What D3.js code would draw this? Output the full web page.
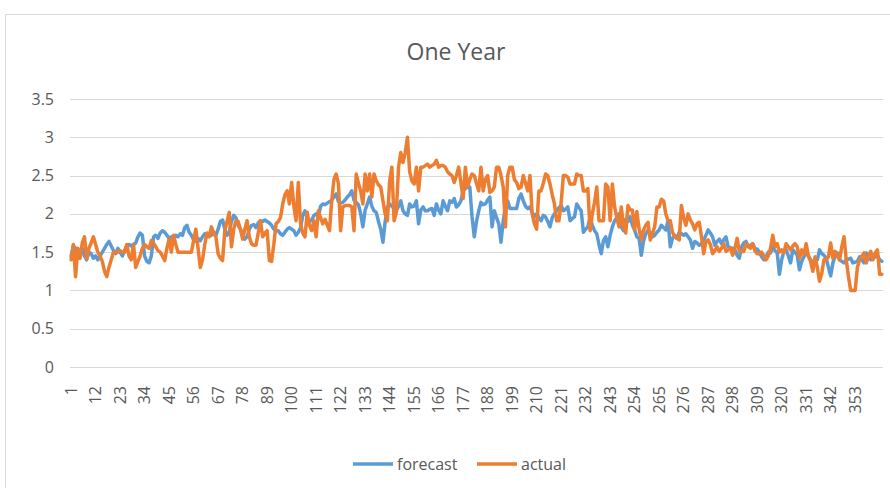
<!DOCTYPE html>
<html>
<head>
<meta charset="utf-8">
<script src="https://cdn.jsdelivr.net/npm/d3@7"></script>
<style>
  html, body { margin: 0; padding: 0; background: #fff; }
  svg { display: block; font-family: "Open Sans", "Noto Sans", sans-serif; }
</style>
</head>
<body>
<svg id="chart" width="890" height="488"></svg>
<script>
// Daily forecast vs actual values over one year (365 days)
const forecast = [
  1.45, 1.58, 1.55, 1.42, 1.50, 1.55, 1.45, 1.40, 1.50, 1.48,
  1.42, 1.45, 1.40, 1.45, 1.50, 1.55, 1.60, 1.64, 1.58, 1.52,
  1.48, 1.55, 1.50, 1.45, 1.52, 1.58, 1.60, 1.58, 1.60, 1.62,
  1.70, 1.75, 1.72, 1.45, 1.38, 1.36, 1.45, 1.70, 1.72, 1.68,
  1.75, 1.78, 1.76, 1.72, 1.68, 1.70, 1.66, 1.72, 1.70, 1.74,
  1.72, 1.82, 1.85, 1.76, 1.72, 1.66, 1.64, 1.68, 1.65, 1.70,
  1.74, 1.72, 1.74, 1.72, 1.76, 1.72, 1.80, 1.90, 1.92, 1.80,
  1.72, 1.76, 1.90, 1.98, 1.95, 1.85, 1.80, 1.72, 1.67, 1.70,
  1.80, 1.85, 1.86, 1.82, 1.88, 1.91, 1.90, 1.92, 1.90, 1.88,
  1.85, 1.80, 1.78, 1.78, 1.74, 1.72, 1.76, 1.80, 1.82, 1.80,
  1.78, 1.72, 1.76, 1.82, 1.98, 2.04, 1.95, 1.90, 1.92, 1.98,
  2.00, 1.96, 2.10, 2.13, 2.12, 2.14, 2.16, 2.18, 2.22, 2.26,
  2.16, 2.14, 2.15, 2.18, 2.22, 2.25, 2.30, 2.18, 2.15, 2.12,
  2.00, 1.83, 2.05, 2.13, 2.22, 2.10, 2.04, 2.02, 1.90, 1.80,
  1.63, 1.90, 2.09, 2.13, 2.10, 2.07, 2.04, 2.10, 2.17, 2.04,
  2.00, 1.98, 2.13, 2.09, 2.10, 2.17, 1.87, 2.05, 2.09, 2.04,
  2.04, 2.06, 2.07, 1.98, 2.13, 2.05, 2.00, 2.17, 2.10, 2.04,
  2.17, 2.15, 2.20, 2.09, 2.12, 2.17, 2.30, 2.33, 2.35, 2.35,
  1.96, 1.70, 1.90, 2.04, 2.15, 2.12, 2.13, 2.18, 2.22, 1.83,
  2.04, 1.95, 1.87, 1.63, 1.91, 2.10, 2.17, 2.07, 2.07, 2.07,
  2.07, 2.20, 2.26, 2.17, 2.10, 2.07, 2.09, 2.02, 1.96, 2.00,
  1.95, 1.91, 1.98, 1.96, 1.90, 1.83, 1.95, 2.00, 2.04, 2.08,
  2.11, 2.04, 2.06, 2.09, 1.91, 1.94, 1.96, 2.13, 2.08, 2.04,
  1.76, 1.80, 1.83, 1.96, 1.85, 1.78, 1.74, 1.60, 1.48, 1.65,
  1.70, 1.57, 1.72, 1.83, 1.91, 1.95, 2.00, 1.83, 1.78, 1.93,
  1.90, 1.96, 1.85, 1.79, 1.70, 1.68, 1.46, 1.65, 1.74, 1.79,
  1.74, 1.70, 1.72, 1.76, 1.79, 1.85, 1.82, 1.79, 1.91, 1.57,
  1.68, 1.72, 1.68, 1.76, 1.74, 1.72, 1.74, 1.70, 1.66, 1.55,
  1.64, 1.62, 1.59, 1.61, 1.66, 1.72, 1.79, 1.75, 1.70, 1.59,
  1.64, 1.67, 1.61, 1.66, 1.70, 1.57, 1.56, 1.55, 1.53, 1.46,
  1.42, 1.57, 1.62, 1.64, 1.57, 1.59, 1.61, 1.55, 1.54, 1.50,
  1.44, 1.40, 1.44, 1.50, 1.49, 1.57, 1.52, 1.49, 1.21, 1.40,
  1.51, 1.53, 1.45, 1.36, 1.53, 1.50, 1.46, 1.27, 1.38, 1.44,
  1.49, 1.45, 1.40, 1.36, 1.38, 1.40, 1.53, 1.48, 1.46, 1.42,
  1.30, 1.19, 1.36, 1.45, 1.49, 1.40, 1.38, 1.36, 1.40, 1.41,
  1.42, 1.36, 1.37, 1.38, 1.44, 1.40, 1.36, 1.49, 1.44, 1.40,
  1.42, 1.44, 1.46, 1.40, 1.38
];

const actual = [
  1.40, 1.60, 1.18, 1.55, 1.42, 1.62, 1.70, 1.42, 1.55, 1.62,
  1.70, 1.60, 1.50, 1.45, 1.38, 1.25, 1.18, 1.30, 1.40, 1.50,
  1.50, 1.50, 1.52, 1.50, 1.50, 1.60, 1.45, 1.40, 1.60, 1.30,
  1.38, 1.45, 1.55, 1.60, 1.57, 1.55, 1.65, 1.62, 1.57, 1.52,
  1.50, 1.45, 1.39, 1.55, 1.67, 1.50, 1.72, 1.60, 1.50, 1.50,
  1.50, 1.50, 1.50, 1.50, 1.50, 1.65, 1.80, 1.55, 1.30, 1.40,
  1.60, 1.75, 1.70, 1.83, 1.75, 1.70, 1.48, 1.42, 1.39, 1.78,
  1.90, 2.02, 1.57, 1.80, 1.91, 1.90, 1.80, 1.67, 1.80, 1.91,
  1.70, 1.61, 1.59, 1.59, 1.75, 1.91, 1.70, 1.75, 1.78, 1.39,
  1.38, 1.60, 1.87, 1.90, 1.95, 2.13, 2.25, 2.30, 2.13, 2.41,
  2.10, 1.91, 2.41, 1.87, 1.75, 1.70, 2.02, 1.85, 1.78, 1.91,
  1.70, 2.04, 1.95, 1.87, 1.93, 1.85, 1.78, 2.17, 2.45, 2.52,
  2.40, 1.78, 2.09, 2.11, 2.11, 2.11, 2.09, 1.78, 2.52, 2.40,
  2.30, 2.13, 2.52, 2.30, 2.52, 2.22, 2.52, 2.43, 2.38, 2.35,
  2.17, 2.00, 1.91, 2.43, 2.61, 1.91, 2.02, 2.61, 2.80, 2.67,
  2.80, 3.00, 2.55, 2.43, 2.39, 2.61, 2.30, 2.61, 2.61, 2.63,
  2.65, 2.61, 2.63, 2.65, 2.70, 2.61, 2.63, 2.63, 2.61, 2.55,
  2.52, 2.50, 2.41, 2.50, 2.61, 2.41, 2.20, 2.61, 2.35, 2.45,
  2.52, 2.50, 2.40, 2.30, 2.61, 2.30, 2.45, 2.50, 2.28, 2.30,
  2.35, 2.61, 2.61, 2.50, 2.35, 1.83, 2.50, 2.61, 2.61, 2.45,
  2.41, 2.33, 2.35, 2.50, 2.40, 2.30, 2.50, 2.00, 1.87, 1.80,
  2.30, 2.30, 2.40, 2.52, 2.50, 2.39, 2.25, 2.13, 1.91, 1.91,
  2.15, 2.50, 2.50, 2.48, 2.39, 2.39, 2.39, 2.52, 2.50, 2.50,
  2.30, 2.30, 2.33, 1.78, 2.00, 2.15, 2.35, 1.91, 1.91, 1.91,
  2.39, 2.35, 1.91, 2.39, 2.09, 1.95, 1.83, 2.09, 1.83, 1.75,
  2.11, 2.05, 2.05, 1.79, 2.03, 1.80, 1.66, 1.79, 1.85, 1.89,
  1.66, 1.75, 1.83, 2.09, 2.09, 2.19, 2.17, 2.00, 1.91, 1.91,
  1.76, 1.70, 1.68, 1.66, 2.11, 1.95, 1.85, 2.00, 1.92, 1.87,
  1.79, 1.87, 1.89, 1.70, 1.48, 1.64, 1.66, 1.60, 1.48, 1.52,
  1.57, 1.51, 1.55, 1.61, 1.51, 1.53, 1.55, 1.46, 1.55, 1.68,
  1.51, 1.51, 1.51, 1.61, 1.58, 1.55, 1.61, 1.52, 1.48, 1.48,
  1.50, 1.45, 1.40, 1.45, 1.55, 1.72, 1.57, 1.61, 1.50, 1.53,
  1.49, 1.61, 1.57, 1.53, 1.58, 1.61, 1.57, 1.42, 1.53, 1.47,
  1.61, 1.45, 1.38, 1.25, 1.44, 1.30, 1.12, 1.22, 1.40, 1.40,
  1.44, 1.62, 1.42, 1.51, 1.45, 1.40, 1.57, 1.70, 1.40, 1.18,
  1.00, 1.00, 1.00, 1.30, 1.40, 1.45, 1.49, 1.36, 1.45, 1.51,
  1.40, 1.49, 1.53, 1.21, 1.21
];

// Day numbers used as categories, and the ones that carry a label
const days = forecast.map((_, i) => i + 1);
const dayLabels = [1, 12, 23, 34, 45, 56, 67, 78, 89, 100, 111, 122, 133, 144, 155, 166, 177,
                   188, 199, 210, 221, 232, 243, 254, 265, 276, 287, 298, 309, 320, 331, 342, 353];
const yTicks = [0, 0.5, 1, 1.5, 2, 2.5, 3, 3.5];

const seriesList = [
  { name: "forecast", values: forecast, color: "#5B9BD5" },
  { name: "actual",   values: actual,   color: "#ED7D31" }
];

const textColor = "#595959";
const gridColor = "#d9d9d9";

const svg = d3.select("#chart");
const plot = { left: 70, right: 883, top: 99, bottom: 367 };

// Outer chart frame
svg.append("rect")
  .attr("x", 5.5).attr("y", 14.5)
  .attr("width", 920).attr("height", 520)
  .attr("fill", "#fff")
  .attr("stroke", gridColor)
  .attr("stroke-width", 1);

const x = d3.scaleBand().domain(days).range([plot.left, plot.right]);
const y = d3.scaleLinear().domain([0, 3.5]).range([plot.bottom, plot.top]);
const cx = d => x(d) + x.bandwidth() / 2;

// Horizontal gridlines
svg.append("g")
  .selectAll("line")
  .data(yTicks)
  .join("line")
  .attr("x1", plot.left).attr("x2", plot.right)
  .attr("y1", d => Math.round(y(d)) + 0.5).attr("y2", d => Math.round(y(d)) + 0.5)
  .attr("stroke", gridColor)
  .attr("stroke-width", 1.2);

// Value axis labels
svg.append("g")
  .selectAll("text")
  .data(yTicks)
  .join("text")
  .attr("x", 54)
  .attr("y", d => y(d))
  .attr("dy", "0.35em")
  .attr("text-anchor", "end")
  .attr("font-size", 16)
  .attr("fill", textColor)
  .text(d => d);

// Category axis labels, rotated
svg.append("g")
  .selectAll("text")
  .data(dayLabels)
  .join("text")
  .attr("transform", d => `translate(${cx(d)},386) rotate(-90)`)
  .attr("dy", "0.35em")
  .attr("text-anchor", "end")
  .attr("font-size", 16)
  .attr("fill", textColor)
  .text(d => d);

// Series lines
const line = d3.line()
  .x((v, i) => cx(days[i]))
  .y(v => y(v));

svg.append("g")
  .selectAll("path")
  .data(seriesList)
  .join("path")
  .attr("d", s => line(s.values))
  .attr("fill", "none")
  .attr("stroke", s => s.color)
  .attr("stroke-width", 3.5)
  .attr("stroke-linejoin", "round")
  .attr("stroke-linecap", "round");

// Title
svg.append("text")
  .attr("x", 456)
  .attr("y", 60)
  .attr("text-anchor", "middle")
  .attr("font-size", 23)
  .attr("fill", textColor)
  .text("One Year");

// Legend
const legendItems = [
  { s: seriesList[0], x0: 353 },
  { s: seriesList[1], x0: 477 }
];
const lg = svg.append("g");
legendItems.forEach(item => {
  lg.append("line")
    .attr("x1", item.x0).attr("x2", item.x0 + 40)
    .attr("y1", 464).attr("y2", 464)
    .attr("stroke", item.s.color)
    .attr("stroke-width", 3.5);
  lg.append("text")
    .attr("x", item.x0 + 44)
    .attr("y", 464)
    .attr("dy", "0.35em")
    .attr("font-size", 16)
    .attr("fill", textColor)
    .text(item.s.name);
});
</script>
</body>
</html>
